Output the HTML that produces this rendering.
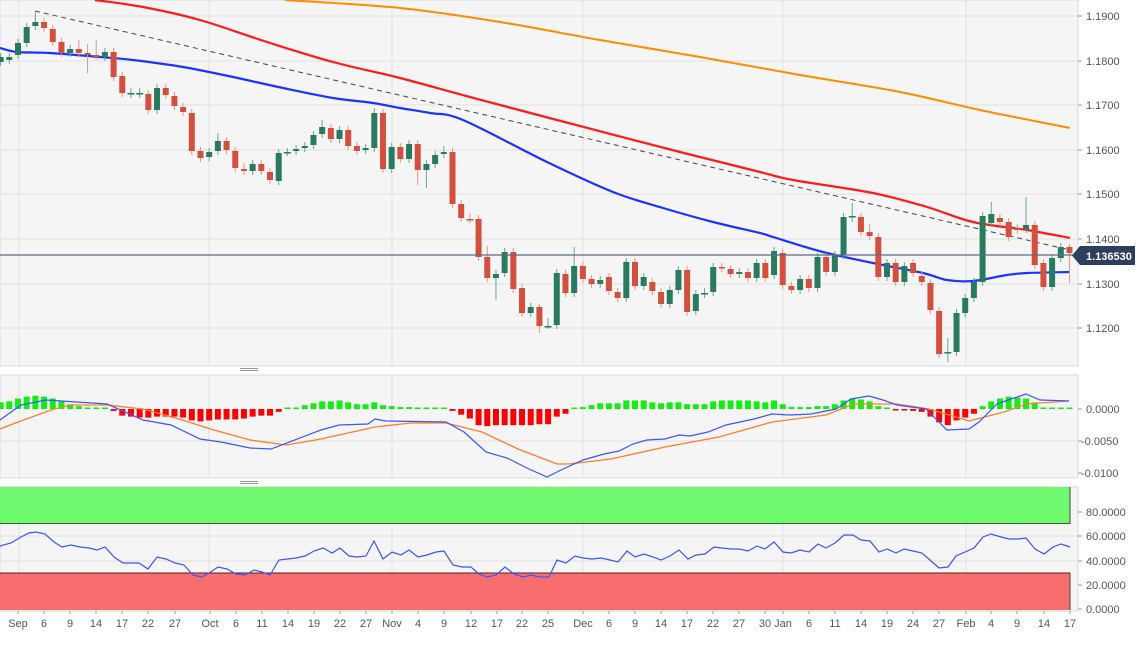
<!DOCTYPE html>
<html><head><meta charset="utf-8">
<style>
html,body{margin:0;padding:0;background:#fff;}
svg{display:block;font-family:"Liberation Sans",sans-serif;}
</style></head>
<body>
<svg id="c" width="1138" height="645" xmlns="http://www.w3.org/2000/svg"></svg>
<script>
const S=document.getElementById('c');let h='';
h+='<rect x="0" y="0" width="1078" height="366" fill="#f5f5f5" stroke="#d6dbe3"/>';
h+='<rect x="0" y="375" width="1078" height="103" fill="#f5f5f5" stroke="#d6dbe3"/>';
h+='<rect x="0" y="487" width="1078" height="124" fill="#f5f5f5" stroke="#d6dbe3"/>';
[16,61,105,150,194,239,284,328].forEach(y=>h+=`<line x1="0" x2="1078" y1="${y}" y2="${y}" stroke="#e1e1e1"/>`);
[441].forEach(y=>h+=`<line x1="0" x2="1078" y1="${y}" y2="${y}" stroke="#e1e1e1"/>`);
[536,561].forEach(y=>h+=`<line x1="0" x2="1078" y1="${y}" y2="${y}" stroke="#e1e1e1"/>`);
[19,209,392,583,783,966].forEach(x=>{h+=`<line x1="${x}" x2="${x}" y1="0" y2="366" stroke="#e1e1e1"/><line x1="${x}" x2="${x}" y1="375" y2="478" stroke="#e1e1e1"/><line x1="${x}" x2="${x}" y1="487" y2="611" stroke="#e1e1e1"/>`;});
[370,483].forEach(y=>h+=`<rect x="240" y="${y-2}" width="18" height="1" fill="#999"/><rect x="240" y="${y}" width="18" height="1" fill="#999"/>`);
h+='<rect x="0" y="487" width="1070" height="37" fill="#6ef96e"/><line x1="0" x2="1070" y1="523.5" y2="523.5" stroke="#2a6a2a"/><line x1="1070" x2="1070" y1="487" y2="524" stroke="#444"/>';
h+='<rect x="0" y="573" width="1070" height="37" fill="#f86e6e"/><line x1="0" x2="1070" y1="573" y2="573" stroke="#5a2020"/><line x1="1070" x2="1070" y1="573" y2="610" stroke="#444"/>';
function path(p,c,w,extra){return `<polyline fill="none" stroke="${c}" stroke-width="${w}" ${extra||''} points="${p.map(q=>q.join(',')).join(' ')}"/>`;}
function smooth(p,c,w){let d=`M${p[0][0]},${p[0][1]}`;for(let i=0;i<p.length-1;i++){const p0=p[Math.max(0,i-1)],p1=p[i],p2=p[i+1],p3=p[Math.min(p.length-1,i+2)];
const c1=[p1[0]+(p2[0]-p0[0])/6,p1[1]+(p2[1]-p0[1])/6],c2=[p2[0]-(p3[0]-p1[0])/6,p2[1]-(p3[1]-p1[1])/6];d+=` C${c1[0]},${c1[1]} ${c2[0]},${c2[1]} ${p2[0]},${p2[1]}`;}
return `<path d="${d}" fill="none" stroke="${c}" stroke-width="${w}"/>`;}
h+=smooth([[285,0],[400,8],[500,22],[600,40],[700,57],[800,75],[900,92],[980,110],[1070,128]],'#ff8c00',2);
h+=smooth([[95,0],[143,7],[200,20],[267,42],[333,62],[400,78],[470,97],[557,120],[680,152],[760,172],[793,180],[873,193],[927,207],[973,222],[1027,230],[1070,238]],'#ff1a1a',2.2);
h+=smooth([[0,48],[17,52],[50,53],[100,57],[133,60],[183,67],[233,77],[283,88],[333,98],[373,103],[400,108],[430,113],[463,120],[547,162],[613,192],[663,208],[713,222],[760,233],[773,237],[823,252],[873,263],[923,273],[947,280],[973,281],[1007,275],[1027,273],[1070,272]],'#1a33ff',2.2);
h+='<line x1="35" y1="11" x2="1070" y2="250" stroke="#444" stroke-width="1" stroke-dasharray="5,4"/>';
const C=[[57,62,'g'],[57,60,'g'],[43,55,'g'],[27,43,'g'],[22,26,'g',11],[22,28,'r'],[29,42,'r'],[42,53,'r'],[49,53,'g'],[49,53,'r',40],[53,55,'r',44,73],[55,57,'r',40,60],[52,57,'g'],[52,77,'r'],[76,93,'r'],[93,93,'g',88,98],[93,93,'g',88,98],[94,110,'r'],[88,110,'g'],[88,95,'r'],[96,106,'r'],[107,112,'r'],[113,151,'r'],[151,158,'r'],[152,157,'g'],[141,151,'g',133],[141,150,'r'],[151,168,'r'],[169,171,'r',163],[164,171,'g'],[164,171,'r'],[172,180,'r'],[153,181,'g'],[152,152,'g',148,156],[149,151,'g'],[146,148,'g'],[135,145,'g'],[127,134,'g',120],[128,139,'r'],[130,139,'g'],[130,146,'r'],[146,151,'r'],[148,150,'g'],[113,148,'g',108],[113,169,'r'],[147,169,'g'],[147,159,'r'],[144,159,'g'],[144,170,'r',140,185],[164,170,'g',160,188],[155,164,'g'],[152,154,'g',146],[152,204,'r'],[204,218,'r'],[219,219,'r',213,223],[219,257,'r'],[257,278,'r',246],[274,278,'g',270,300],[252,273,'g'],[252,289,'r'],[288,313,'r'],[307,313,'g'],[307,326,'r',304,333],[326,326,'g',318,329],[273,325,'g'],[274,293,'r'],[266,293,'g',247],[266,279,'r'],[279,284,'r'],[280,284,'g'],[277,291,'r'],[292,298,'r'],[262,298,'g'],[262,286,'r'],[277,286,'g'],[282,291,'r'],[292,304,'r'],[290,304,'g'],[270,290,'g'],[270,312,'r'],[294,311,'g'],[293,293,'g',288,298],[267,292,'g'],[267,268,'r'],[269,274,'r'],[272,274,'g'],[272,278,'r'],[263,278,'g'],[263,278,'r'],[251,275,'g'],[253,285,'r'],[286,290,'r'],[279,290,'g'],[279,288,'r'],[257,288,'g'],[257,272,'r'],[255,272,'g'],[217,255,'g'],[216,216,'g',203,222],[217,232,'r'],[232,236,'r',224],[237,277,'r'],[263,277,'g'],[263,282,'r'],[266,282,'g'],[263,273,'r'],[276,282,'r'],[283,310,'r'],[311,354,'r'],[352,352,'g',338,362],[313,352,'g'],[298,313,'g'],[282,298,'g'],[216,282,'g'],[214,223,'g',202],[218,222,'r'],[222,237,'r'],[228,230,'r'],[225,229,'g',197],[225,265,'r'],[263,287,'r'],[258,287,'g'],[247,258,'g'],[247,253,'r',244,283]];
C.forEach((c,k)=>{const i=k-2;const x=18+i*8.69;const col=c[2]=='g'?'#2a7a5f':'#d4503e';const wc=c[2]=='g'?'#6aa892':'#e8958a';
const hi=c[3]!==undefined?c[3]:c[0]-4;const lo=c[4]!==undefined?c[4]:c[1]+4;
h+=`<line x1="${x}" x2="${x}" y1="${hi}" y2="${lo}" stroke="${wc}" stroke-width="1"/>`;
const bh=Math.max(1.5,c[1]-c[0]);const bw=c[1]-c[0]<1?7:6;
h+=`<rect x="${x-bw/2}" y="${c[0]}" width="${bw}" height="${bh}" fill="${col}"/>`;});
h+='<line x1="0" x2="1078" y1="255" y2="255" stroke="#5b6b88" stroke-width="1.2"/>';
h+='<polygon points="1072,255.5 1080,246 1135,246 1135,265 1080,265" fill="#2d3f5c"/><text x="1086" y="260" font-size="11" font-weight="bold" fill="#fff">1.136530</text>';
const M=[7,8,11,13,14,13,11,8,5,3,1,1,0.5,-2,-7,-8,-9,-9,-8,-8,-8,-9,-12,-13,-12,-11,-11,-11,-10,-8,-7,-7,-3,0,1,4,6,8,8,9,7,5,5,7,4,3,2,2,0.5,0.5,0.5,1,-2,-6,-10,-17,-18,-17,-17,-17,-17,-17,-16,-16,-8,-5,0.5,2,4,6,6,6,9,9,9,7,6,7,7,5,5,5,8,9,9,9,9,8,7,9,5,2,2,2,3,3,5,9,11,10,8,3,1,-1,-1,-2,-3,-8,-14,-17,-12,-9,-5,3,8,11,13,12,11,7,1,1,1,1];
M.forEach((v,k)=>{const i=k-2;const x=18+i*8.69;let hh=Math.max(1.5,Math.abs(v)*0.95);
if(v>=0)h+=`<rect x="${x-3}" y="${409-hh}" width="6" height="${hh}" fill="#11ee11"/>`;else h+=`<rect x="${x-3}" y="409" width="6" height="${hh}" fill="#ff0000"/>`;});
h+=path([[0,429],[18,422],[54,409],[71,405],[107,405],[143,409],[179,419],[214,430],[250,440],[286,445],[321,439],[375,427],[411,423],[446,423],[482,432],[518,449],[557,464],[569,464],[611,459],[665,447],[719,437],[772,422],[826,415],[854,404],[897,404],[929,409],[969,421],[1004,412],[1026,404],[1069,401]],'#ff7f2a',1.3);
h+=path([[0,420],[21,405],[46,400],[107,404],[143,420],[171,425],[200,439],[221,442],[250,448],[271,449],[321,430],[339,425],[368,424],[375,419],[386,421],[446,422],[464,432],[486,452],[507,458],[529,469],[547,477],[561,470],[583,460],[604,454],[619,451],[633,444],[647,440],[665,439],[679,435],[690,436],[708,432],[726,425],[754,419],[772,414],[790,415],[811,414],[836,409],[851,399],[869,396],[883,400],[897,405],[926,409],[947,430],[969,429],[979,422],[997,404],[1011,399],[1026,394],[1040,400],[1069,401]],'#3a55ff',1.2);
h+=path([[0,546],[11,543],[21,537],[29,533],[36,532],[45,534],[54,542],[62,547],[71,545],[80,547],[89,548],[97,550],[105,547],[114,557],[123,563],[139,563],[148,569],[157,557],[166,559],[175,563],[184,565],[193,575],[202,577],[209,573],[218,567],[227,569],[236,574],[245,575],[254,570],[262,572],[270,575],[279,560],[296,558],[305,556],[314,551],[323,548],[332,553],[340,548],[349,556],[357,557],[366,556],[374,541],[383,559],[392,552],[401,555],[409,550],[418,557],[427,555],[436,552],[444,551],[453,565],[462,567],[471,567],[479,574],[487,577],[496,575],[505,567],[514,574],[523,577],[531,575],[540,577],[549,577],[557,560],[566,563],[575,556],[583,558],[592,559],[601,558],[610,560],[618,562],[627,551],[635,557],[644,554],[653,557],[661,560],[670,556],[679,550],[688,559],[696,555],[705,554],[714,547],[722,548],[731,549],[739,549],[748,551],[757,546],[765,549],[774,542],[783,552],[791,553],[800,550],[809,552],[818,544],[826,548],[835,543],[844,535],[853,535],[861,540],[870,541],[879,552],[887,549],[896,553],[904,549],[913,551],[922,553],[931,561],[939,568],[948,567],[956,556],[965,552],[974,548],[983,537],[991,534],[1001,537],[1009,539],[1018,539],[1026,538],[1035,549],[1044,554],[1053,547],[1061,544],[1070,547]],'#3a55ff',1.2);
const RL=[[16,'1.1900'],[61,'1.1800'],[105,'1.1700'],[150,'1.1600'],[194,'1.1500'],[239,'1.1400'],[284,'1.1300'],[328,'1.1200'],[409,'0.0000'],[441,'-0.0050'],[473,'-0.0100'],[512,'80.0000'],[536,'60.0000'],[561,'40.0000'],[585,'20.0000'],[609,'0.0000']];
RL.forEach(r=>{h+=`<line x1="1078" x2="1082" y1="${r[0]}" y2="${r[0]}" stroke="#999"/><text x="${r[1][0]=='-'?1081:1086}" y="${r[0]+4}" font-size="11" fill="#555">${r[1]}</text>`;});
const BL=[[18,'Sep'],[44,'6'],[70,'9'],[96,'14'],[122,'17'],[148,'22'],[175,'27'],[210,'Oct'],[236,'6'],[262,'11'],[288,'14'],[314,'19'],[340,'22'],[366,'27'],[392,'Nov'],[418,'4'],[444,'9'],[471,'12'],[497,'17'],[522,'22'],[548,'25'],[583,'Dec'],[609,'6'],[635,'9'],[661,'14'],[687,'17'],[713,'22'],[739,'27'],[765,'30'],[783,'Jan'],[809,'6'],[835,'11'],[861,'14'],[887,'19'],[913,'24'],[939,'27'],[966,'Feb'],[991,'4'],[1017,'9'],[1044,'14'],[1070,'17']];
BL.forEach(b=>{h+=`<line x1="${b[0]}" x2="${b[0]}" y1="611" y2="614" stroke="#999"/><text x="${b[0]}" y="627" font-size="11" fill="#555" text-anchor="middle">${b[1]}</text>`;});
S.innerHTML=h;
</script>
</body></html>
